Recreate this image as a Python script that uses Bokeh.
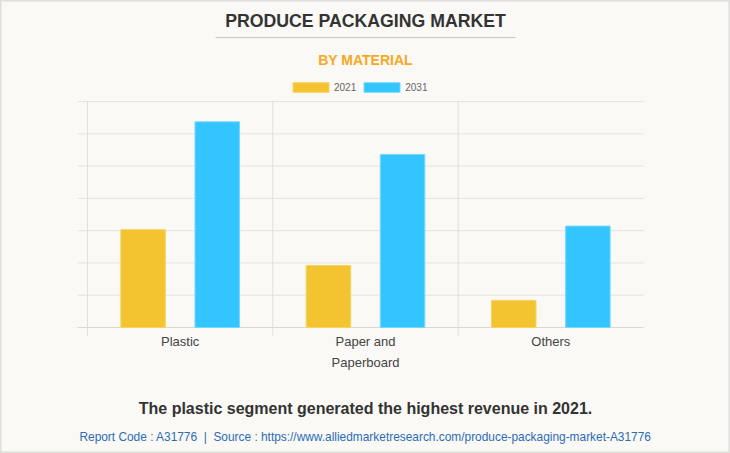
from bokeh.plotting import figure
from bokeh.models import (Range1d, Label, BoxAnnotation, Legend, LegendItem,
                          ColumnDataSource)
from bokeh.transform import dodge
from bokeh.embed import file_html
from bokeh.resources import INLINE

categories = ["Plastic", "Paper and\nPaperboard", "Others"]
values_2021 = [3.03, 1.92, 0.84]
values_2031 = [6.37, 5.36, 3.14]
series_labels = ["2021", "2031"]
y_ticks = [1, 2, 3, 4, 5, 6, 7]

BG = "#faf9f5"
GRID = "#e4e3e0"
W, H = 730, 453
# plot area in pixels (layout)
PL, PR, PT, PB = 87, 643, 101, 327
n = len(categories)
ymax = 7
xs = (PR - PL) / n
ys = (PB - PT) / ymax

src = ColumnDataSource(dict(
    x=[i + 0.5 for i in range(n)],
    cat=categories,
    v2021=values_2021,
    v2031=values_2031,
))

p = figure(width=W, height=H, output_backend="svg", toolbar_location=None,
           x_range=Range1d(-PL / xs, n + (W - PR) / xs),
           y_range=Range1d(-(H - PB) / ys, ymax + PT / ys),
           min_border=0, background_fill_color=BG, border_fill_color=BG,
           outline_line_color="#dedede", outline_line_width=2)
p.axis.visible = False
p.grid.visible = False

# grid lines
p.segment(x0=[-10 / xs] * len(y_ticks), x1=[n] * len(y_ticks), y0=y_ticks, y1=y_ticks,
          line_color=GRID, line_width=1)
p.segment(x0=[-10 / xs], x1=[n], y0=[0], y1=[0], line_color="#d9d8d5", line_width=1)
p.segment(x0=list(range(n)), x1=list(range(n)), y0=[-8 / ys] * n, y1=[ymax] * n,
          line_color="#e0dfdc", line_width=1)

r1 = p.vbar(x=dodge("x", -0.2), top="v2021", width=0.24, source=src,
            fill_color="#f4c430", line_color="#f7d360", line_width=1)
r2 = p.vbar(x=dodge("x", 0.2), top="v2031", width=0.24, source=src,
            fill_color="#33c5ff", line_color="#74d8ff", line_width=1)

# category labels
for i, c in enumerate(categories):
    p.add_layout(Label(x=i + 0.5, y=H - 333, x_units="data", y_units="screen", text=c,
                       text_align="center", text_baseline="top",
                       text_font="Liberation Sans", text_font_size="13px",
                       text_color="#444444", text_line_height=1.45))

# titles
p.add_layout(Label(x=W / 2, y=H - 20.5, x_units="screen", y_units="screen",
                   text="PRODUCE PACKAGING MARKET", text_align="center",
                   text_baseline="middle", text_font="Liberation Sans",
                   text_font_style="bold", text_font_size="17.7px", text_color="#333333"))
p.add_layout(BoxAnnotation(left=215, right=515, bottom=H - 37.5, top=H - 36.5,
                           left_units="screen", right_units="screen",
                           bottom_units="screen", top_units="screen",
                           fill_color="#c8c8c8", fill_alpha=1, line_color=None))
p.add_layout(Label(x=W / 2, y=H - 59, x_units="screen", y_units="screen",
                   text="BY MATERIAL", text_align="center", text_baseline="middle",
                   text_font="Liberation Sans", text_font_style="bold",
                   text_font_size="14px", text_color="#f7a823"))

# legend
legend = Legend(items=[LegendItem(label=series_labels[0], renderers=[r1]),
                       LegendItem(label=series_labels[1], renderers=[r2])],
                orientation="horizontal", location=(288, H - 93),
                glyph_width=45, glyph_height=12, label_height=12,
                label_standoff=1, spacing=3, padding=0, margin=0,
                border_line_color=None, background_fill_alpha=0,
                label_text_font="Liberation Sans", label_text_font_size="10px",
                label_text_color="#666666")
p.add_layout(legend, "center")

# footer
p.add_layout(Label(x=W / 2, y=H - 408, x_units="screen", y_units="screen",
                   text="The plastic segment generated the highest revenue in 2021.",
                   text_align="center", text_baseline="middle",
                   text_font="Liberation Sans", text_font_style="bold",
                   text_font_size="16px", text_color="#333333"))
p.add_layout(Label(x=W / 2, y=H - 436, x_units="screen", y_units="screen",
                   text="Report Code : A31776\u00a0 | \u00a0Source : https://www.alliedmarketresearch.com/produce-packaging-market-A31776",
                   text_align="center", text_baseline="middle",
                   text_font="Liberation Sans", text_font_size="11.9px",
                   text_color="#2b6cb8"))

open("out.html", "w").write(file_html(p, INLINE))
